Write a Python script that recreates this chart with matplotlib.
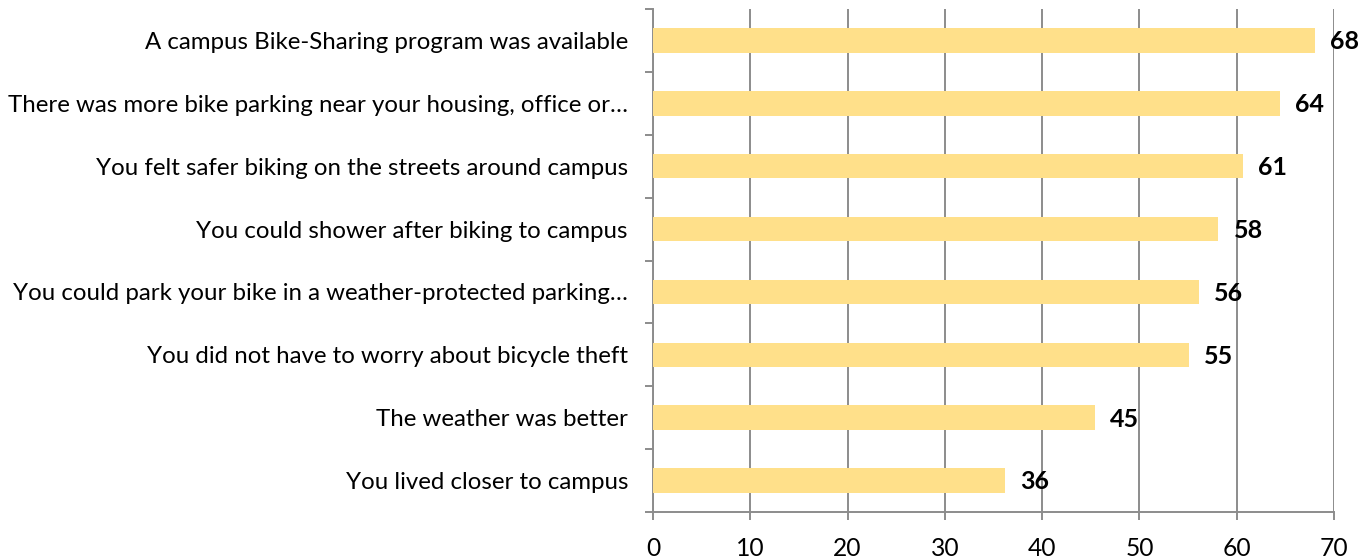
import matplotlib.pyplot as plt
import numpy as np

# survey answers, top to bottom as shown
reasons = [
    "A campus Bike-Sharing program was available",
    "There was more bike parking near your housing, office or\u2026",
    "You felt safer biking on the streets around campus",
    "You could shower after biking to campus",
    "You could park your bike in a weather-protected parking\u2026",
    "You did not have to worry about bicycle theft",
    "The weather was better",
    "You lived closer to campus",
]
percent = [68.0, 64.4, 60.6, 58.1, 56.1, 55.1, 45.4, 36.2]
percent_labels = ["68", "64", "61", "58", "56", "55", "45", "36"]

plt.rcParams['font.family'] = ['Lato', 'DejaVu Sans']

fig = plt.figure(figsize=(13.72, 5.59), dpi=100)
ax = fig.add_axes([653 / 1372, 1 - 512 / 559, (1334 - 653) / 1372, (512 - 9) / 559])

y = np.arange(len(reasons))[::-1]
bars = ax.barh(y, percent, height=0.39, color='#FFE08A', zorder=3)

for bar, lab in zip(bars, percent_labels):
    ax.annotate(lab, (bar.get_width(), bar.get_y() + bar.get_height() / 2),
                xytext=(11, -1), textcoords='offset points',
                ha='left', va='center', fontsize=18, fontweight='bold', color='black')

ax.set_xlim(0, 70)
ax.set_ylim(-0.5, len(reasons) - 0.5)
ax.set_xticks(range(0, 71, 10))
ax.set_yticks(y)
ax.set_yticklabels(reasons)
ax.set_yticks(np.arange(-0.5, len(reasons), 1), minor=True)

grey = '#8C8C8C'
ax.grid(axis='x', color=grey, linewidth=1.4, zorder=0)
for s in ['top', 'right']:
    ax.spines[s].set_visible(False)
for s in ['left', 'bottom']:
    ax.spines[s].set_color(grey)
    ax.spines[s].set_linewidth(1.4)

ax.tick_params(axis='y', which='major', length=0, pad=18, labelsize=17.3)
ax.tick_params(axis='y', which='minor', length=6, width=1.4, color=grey)
ax.tick_params(axis='x', length=6, width=1.4, color=grey, pad=12, labelsize=17.7)

fig.savefig('out.png', dpi=100)
